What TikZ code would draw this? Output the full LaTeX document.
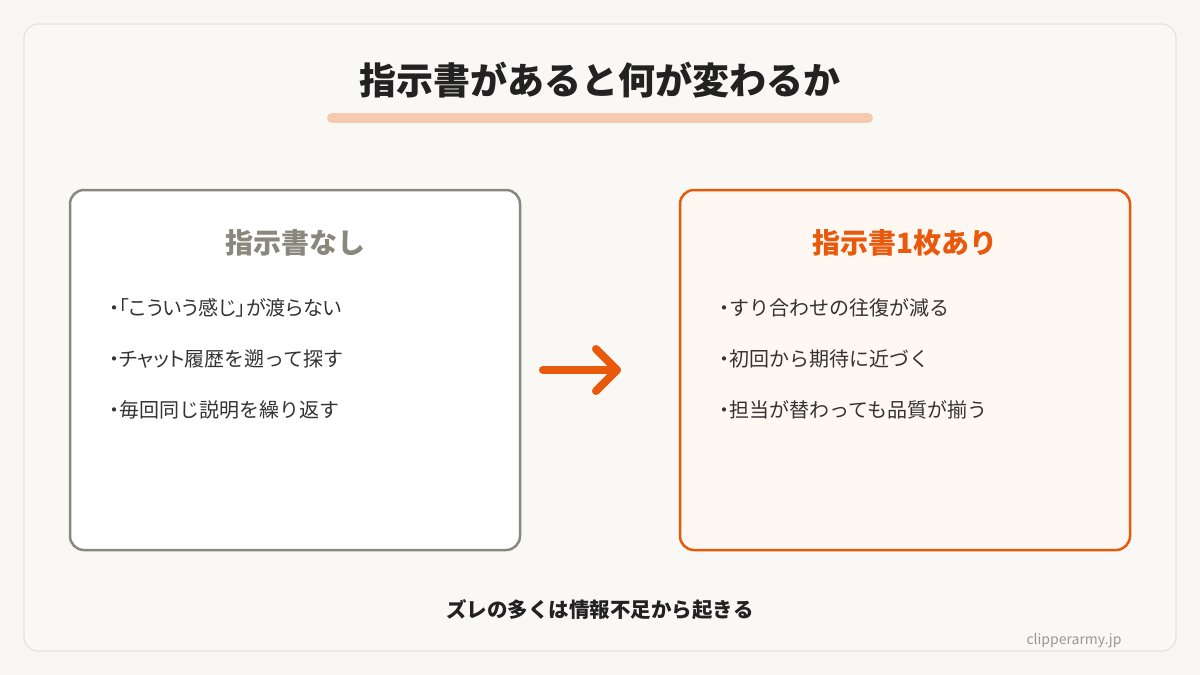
\documentclass[tikz,border=0pt]{standalone}
\usepackage{fontspec}
\setmainfont{Noto Sans CJK JP}
\newcommand\propw[1]{{\addfontfeature{RawFeature=+palt}#1}}
\definecolor{bgc}{HTML}{F7F6F2}
\definecolor{panelc}{HTML}{F9F8F4}
\definecolor{panelline}{HTML}{E6E4DF}
\definecolor{ink}{HTML}{222222}
\definecolor{bodyink}{HTML}{333333}
\definecolor{greyc}{HTML}{8A877D}
\definecolor{orangec}{HTML}{E8590C}
\definecolor{barc}{HTML}{F5CBB0}
\definecolor{warmfill}{HTML}{FFF7F2}
\definecolor{markc}{HTML}{9A9893}
\tikzset{
  card/.style={rounded corners=14pt, line width=2.5pt},
  cardtitle/.style={font=\fontsize{28}{32}\selectfont\bfseries, inner sep=0pt},
  bullet/.style={font=\fontsize{20}{24}\selectfont, text=bodyink, anchor=west, inner sep=0pt},
}
\begin{document}
\begin{tikzpicture}[x=1pt,y=-1pt]
\useasboundingbox (0,0) rectangle (1200,675);
\fill[bgc] (0,0) rectangle (1200,675);
\draw[panelline, fill=panelc, line width=1.2pt, rounded corners=14pt] (24,24) rectangle (1176,651);

\node[font=\fontsize{37}{42}\selectfont\bfseries, text=ink, inner sep=0pt] (title) at (600,80) {指示書があると何が変わるか};
\draw[barc, line width=10pt, line cap=round] (332,118) -- (868,118);

\draw[card, draw=greyc, fill=white] (70,190) rectangle (520,550);
\coordinate (leftbox) at (520,370);
\node[cardtitle, text=greyc] (lt) at (295,243) {指示書なし};
\node[bullet] (l1) at (109,308) {\propw{・「こういう感じ」が渡らない}};
\node[bullet] (l2) at (109,359) {\propw{・チャット}履歴を遡って探す};
\node[bullet] (l3) at (109,410) {\propw{・}毎回同じ説明を繰り返す};

\draw[card, draw=orangec, fill=warmfill] (680,190) rectangle (1130,550);
\coordinate (rightbox) at (680,370);
\node[cardtitle, text=orangec] (rt) at (905,243) {指示書1枚あり};
\node[bullet] (r1) at (719,308) {\propw{・}すり合わせの往復が減る};
\node[bullet] (r2) at (719,359) {\propw{・}初回から期待に近づく};
\node[bullet] (r3) at (719,410) {\propw{・}担当が替わっても品質が揃う};

\coordinate (aS) at (543,370);
\coordinate (aE) at (617,370);
\draw[orangec, line width=8pt, line cap=round, line join=round] (aS) -- (aE);
\draw[orangec, line width=8pt, line cap=round, line join=round] ([shift={(-21,-21)}]aE) -- (aE) -- ([shift={(-21,21)}]aE);

\node[font=\fontsize{20.5}{24}\selectfont\bfseries, text=ink, inner sep=0pt] (foot) at (600,610) {ズレの多くは情報不足から起きる};
\node[font=\fontsize{14}{16}\selectfont, text=markc, inner sep=0pt] (mark) at (1074,641) {clipperarmy.jp};
\end{tikzpicture}
\end{document}
